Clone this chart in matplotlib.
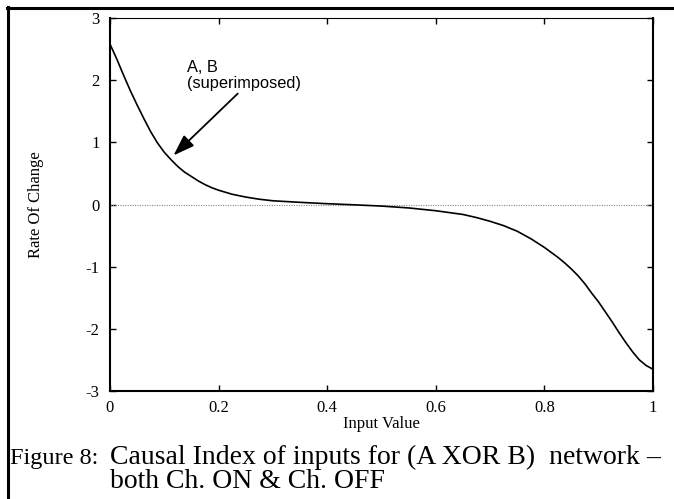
import matplotlib
matplotlib.use("Agg")
import matplotlib.pyplot as plt
from matplotlib.lines import Line2D

plt.rcParams['axes.unicode_minus'] = False

# values
input_value = [0.0, 0.0125, 0.025, 0.0375, 0.05, 0.0625, 0.075, 0.0875, 0.1, 0.1125,
               0.125, 0.1375, 0.15, 0.1625, 0.175, 0.1875, 0.2, 0.225, 0.25, 0.275,
               0.3, 0.35, 0.4, 0.45, 0.5, 0.55, 0.6, 0.625, 0.65, 0.675,
               0.7, 0.725, 0.75, 0.775, 0.8, 0.8125, 0.825, 0.8375, 0.85, 0.8625,
               0.875, 0.8875, 0.9, 0.9125, 0.925, 0.9375, 0.95, 0.9625, 0.975, 0.9875, 1.0]
rate_of_change = [2.58, 2.34, 2.08, 1.83, 1.60, 1.38, 1.17, 0.99, 0.84, 0.72,
                  0.61, 0.52, 0.45, 0.38, 0.32, 0.27, 0.23, 0.165, 0.12, 0.085,
                  0.06, 0.035, 0.013, -0.005, -0.025, -0.055, -0.10, -0.13, -0.16, -0.21,
                  -0.27, -0.34, -0.43, -0.55, -0.69, -0.77, -0.85, -0.94, -1.04, -1.15,
                  -1.28, -1.43, -1.57, -1.73, -1.89, -2.06, -2.22, -2.37, -2.50, -2.59, -2.65]
x_ticks = [0, 0.2, 0.4, 0.6, 0.8, 1]
x_tick_labels = ["0", "0.2", "0.4", "0.6", "0.8", "1"]
y_ticks = [-3, -2, -1, 0, 1, 2, 3]

serif = "Liberation Serif"
sans = "Liberation Sans"

fig = plt.figure(figsize=(6.74, 4.99), dpi=100)
ax = fig.add_axes([0.1632, 0.2164, 0.8056, 0.7475])

ax.plot([0, 1], [0, 0], color="#888888", linestyle=(0, (1, 1.2)), linewidth=0.8)
ax.plot(input_value, rate_of_change, color="black", linewidth=1.2)

ax.set_xlim(0, 1)
ax.set_ylim(-3, 3)
ax.set_xticks(x_ticks)
ax.set_xticklabels(x_tick_labels)
ax.set_yticks(y_ticks)
ax.tick_params(direction="in", length=4, width=1, top=True, right=True, labelsize=12)
ax.tick_params(axis="x", pad=6.5)
ax.tick_params(axis="y", pad=7.5)
for lab in ax.get_xticklabels() + ax.get_yticklabels():
    lab.set_fontfamily(serif)

for side in ["left", "bottom", "right"]:
    ax.spines[side].set_linewidth(1.5)
ax.spines["top"].set_linewidth(0.8)

ax.set_xlabel("Input Value", fontfamily=serif, fontsize=12)
ax.xaxis.set_label_coords(0.5, -0.066)
ax.set_ylabel("Rate Of Change", fontfamily=serif, fontsize=12)
ax.yaxis.set_label_coords(-0.122, 0.5)

ax.annotate("A, B\n(superimposed)", xy=(0.117, 0.79), xytext=(0.142, 2.08),
            fontfamily=sans, fontsize=11.8, ha="left", va="center", linespacing=1.1,
            arrowprops=dict(arrowstyle="-|>,head_length=1.1,head_width=0.38",
                            color="black", lw=1.3, shrinkA=0, shrinkB=0,
                            relpos=(0.47, 0.0)))

# outer frame (top and left edges only)
fig.add_artist(Line2D([7 / 674, 1], [1 - 8 / 499, 1 - 8 / 499], color="black",
                      linewidth=2.2, transform=fig.transFigure))
fig.add_artist(Line2D([8 / 674, 8 / 674], [0, 1 - 7 / 499], color="black",
                      linewidth=2.2, transform=fig.transFigure))

# caption
fig.text(10 / 674, 1 - 464 / 499, "Figure 8:", fontfamily=serif, fontsize=17.5,
         ha="left", va="baseline")
fig.text(110 / 674, 1 - 464 / 499, "Causal Index of inputs for (A XOR B)  network \u2013",
         fontfamily=serif, fontsize=20, ha="left", va="baseline")
fig.text(110 / 674, 1 - 488 / 499, "both Ch. ON & Ch. OFF", fontfamily=serif,
         fontsize=20, ha="left", va="baseline")

fig.savefig("out.png", dpi=100)
